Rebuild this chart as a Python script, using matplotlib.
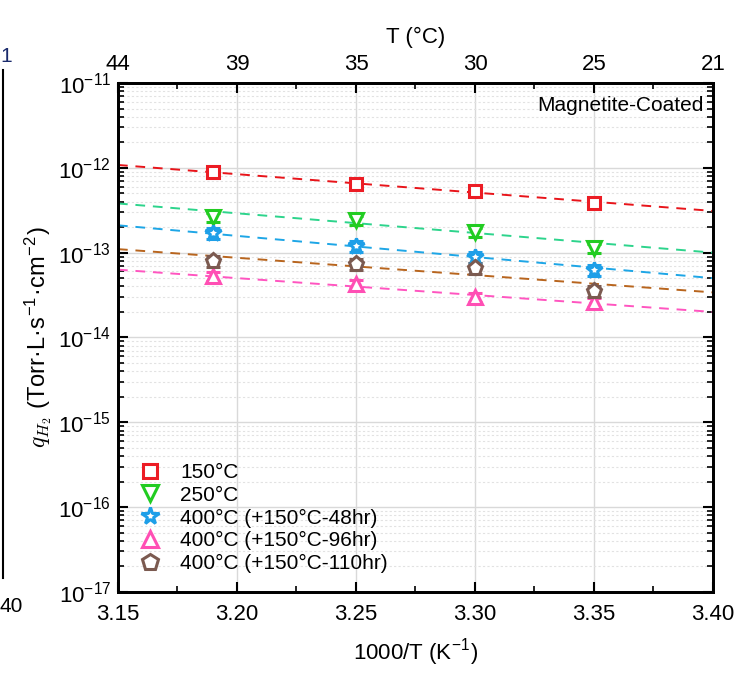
import numpy as np
import matplotlib
matplotlib.use("Agg")
import matplotlib.pyplot as plt
from matplotlib.lines import Line2D
from matplotlib.ticker import LogLocator, NullFormatter, MultipleLocator, FixedLocator

plt.rcParams['font.family'] = ['Liberation Sans', 'DejaVu Sans']
plt.rcParams['mathtext.fontset'] = 'cm'

# ---- data ----
x_inv_T = [3.19, 3.25, 3.30, 3.35]
labels = ["150°C", "250°C", "400°C (+150°C-48hr)", "400°C (+150°C-96hr)", "400°C (+150°C-110hr)"]
q_150 = [8.9e-13, 6.4e-13, 5.3e-13, 3.8e-13]
q_250 = [2.6e-13, 2.4e-13, 1.75e-13, 1.13e-13]
q_48 = [1.7e-13, 1.2e-13, 8.9e-14, 6.2e-14]
q_96 = [5.3e-14, 4.3e-14, 3.0e-14, 2.6e-14]
q_110 = [8.0e-14, 7.3e-14, 6.6e-14, 3.5e-14]
err_frac = [0.12, 0.12, 0.15, 0.12, 0.15]
# Arrhenius fit lines read at x = 3.15 and x = 3.40
fit_x = [3.15, 3.40]
fit_150 = [1.08e-12, 3.1e-13]
fit_250 = [3.8e-13, 1.0e-13]
fit_48 = [2.1e-13, 5.0e-14]
fit_96 = [6.3e-14, 2.0e-14]
fit_110 = [1.1e-13, 3.4e-14]
x_ticks = [3.15, 3.20, 3.25, 3.30, 3.35, 3.40]
top_tick_labels = ["44", "39", "35", "30", "25", "21"]
y_ticks = [1e-17, 1e-16, 1e-15, 1e-14, 1e-13, 1e-12, 1e-11]

series = [q_150, q_250, q_48, q_96, q_110]
fits = [fit_150, fit_250, fit_48, fit_96, fit_110]
mcolors = ['#ec1c24', '#22cc22', '#1e9fe8', '#ff4fb4', '#7b5a50']
lcolors = ['#e8141a', '#2dd48c', '#1ea6e6', '#ff55c0', '#b8651e']
markers = ['s', 'v', '*', '^', 'p']
msizes = [9, 10, 12, 10, 11]

fig = plt.figure(figsize=(7.43, 6.73), dpi=100)
ax = fig.add_axes([0.1588, 0.1204, 0.8008, 0.7563])

handles = []
for s, f, mc, lc, m, ms, ef, lab in zip(series, fits, mcolors, lcolors, markers, msizes, err_frac, labels):
    ax.plot(fit_x, f, ls=(0, (5, 4)), color=lc, lw=1.4, zorder=2)
    s = np.array(s)
    ax.errorbar(x_inv_T, s, yerr=s * ef, fmt=m, ms=ms, mfc='white', mec=mc, mew=2.2,
                ecolor=mc, elinewidth=2, capsize=5, capthick=2, zorder=3)
    handles.append(Line2D([], [], ls='none', marker=m, ms=ms + 1, mfc='white', mec=mc, mew=2.2, label=lab))

ax.set_yscale('log')
ax.set_ylim(1e-17, 1e-11)
ax.set_xlim(3.15, 3.40)
ax.set_xticks(x_ticks)
ax.set_xticklabels([f"{v:.2f}" for v in x_ticks])
ax.xaxis.set_minor_locator(MultipleLocator(0.025))
ax.yaxis.set_major_locator(FixedLocator(y_ticks))
ax.yaxis.set_minor_locator(LogLocator(base=10, subs=np.arange(2, 10), numticks=100))
ax.yaxis.set_minor_formatter(NullFormatter())

ax.grid(True, which='major', color='#d9d9d9', lw=1.0, ls='-')
ax.grid(True, which='minor', axis='y', color='#e2e2e2', lw=0.8, ls=(0, (2, 2)))
ax.set_axisbelow(True)

ax.tick_params(which='both', direction='in', right=True, top=False, labelsize=16)
ax.tick_params(which='major', length=7, width=1.5)
ax.tick_params(which='minor', length=4, width=1.2)
ax.tick_params(axis='x', pad=9)
ax.tick_params(axis='y', pad=5)
for sp in ax.spines.values():
    sp.set_linewidth(2)

ax.set_xlabel("1000/T (K$^{\\mathregular{-1}}$)", fontsize=16, labelpad=9)
ax.set_ylabel(r"$q_{H_2}$ (Torr·L·s$^{\mathregular{-1}}$·cm$^{\mathregular{-2}}$)", fontsize=17, labelpad=3)

ax2 = ax.twiny()
ax2.set_xlim(ax.get_xlim())
ax2.set_xticks(x_ticks)
ax2.set_xticklabels(top_tick_labels)
ax2.xaxis.set_minor_locator(MultipleLocator(0.025))
ax2.tick_params(which='both', direction='in', labelsize=16, pad=6)
ax2.tick_params(which='major', length=7, width=1.5)
ax2.tick_params(which='minor', length=4, width=1.2)
ax2.set_xlabel("T (°C)", fontsize=16, labelpad=8)
for sp in ax2.spines.values():
    sp.set_linewidth(2)

ax.text(0.985, 0.975, "Magnetite-Coated", transform=ax.transAxes, ha='right', va='top', fontsize=15)

leg = ax.legend(handles=handles, loc='lower left', frameon=False, fontsize=15, handletextpad=0.8,
                labelspacing=0.18, borderaxespad=0.5, handlelength=1.3)

# fragments of neighbouring panel at left edge
fig.text(0.0, 1 - 57 / 673, "1", color='#1a2a6c', fontsize=15, ha='left', va='center')
fig.text(0.0, 1 - 607 / 673, "40", color='black', fontsize=15, ha='left', va='center')
fig.add_artist(Line2D([3 / 743, 3 / 743], [1 - 70 / 673, 1 - 578 / 673], color='black', lw=1.5))

fig.savefig("out.png", dpi=100)
